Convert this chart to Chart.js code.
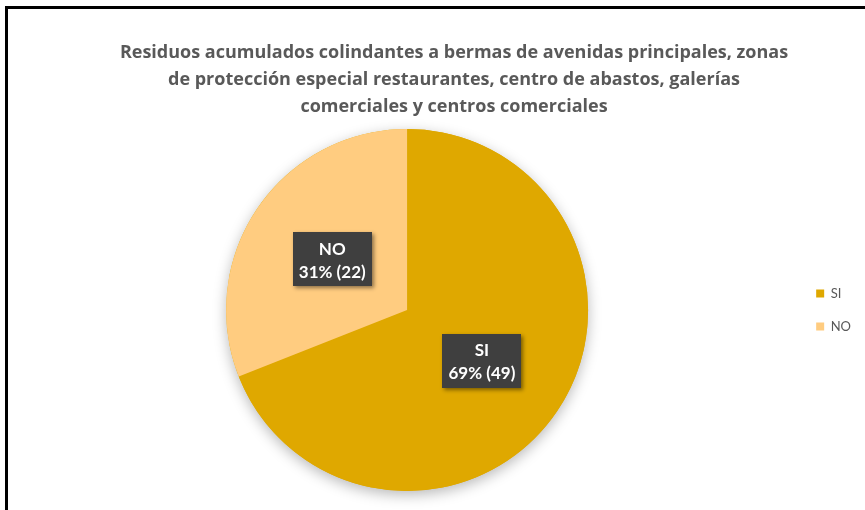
<!DOCTYPE html>
<html>
<head>
<meta charset="utf-8">
<script src="https://cdn.jsdelivr.net/npm/chart.js@4.4.1/dist/chart.umd.min.js"></script>
<style>
  html, body { margin: 0; padding: 0; background: #fff; overflow: hidden; }
  #wrap { position: relative; width: 865px; height: 510px; overflow: hidden; }
  #chart { position: absolute; left: 0; top: 0; }
  #frame {
    position: absolute; left: 5px; top: 6px; width: 900px; height: 600px;
    border: 3px solid #000; box-sizing: border-box; pointer-events: none;
  }
</style>
</head>
<body>
<div id="wrap">
  <canvas id="chart" width="865" height="510" style="width:865px;height:510px"></canvas>
  <div id="frame"></div>
</div>
<script>
const categorias = ['SI', 'NO'];
const cantidades = [49, 22];
const colores = ['#DFA800', '#FFCC80'];
const titulo = [
  'Residuos acumulados colindantes a bermas de avenidas principales, zonas',
  'de protección especial restaurantes, centro de abastos, galerías',
  'comerciales y centros comerciales'
];

const FUENTE = 'Lato, "Open Sans", sans-serif';

// título en tres líneas, centrado sobre el bloque completo (gráfico + leyenda)
const tituloPlugin = {
  id: 'tituloPlugin',
  afterDraw(chart) {
    const ctx = chart.ctx;
    ctx.save();
    ctx.font = 'bold 18px "Open Sans", sans-serif';
    ctx.fillStyle = '#595959';
    ctx.textAlign = 'center';
    ctx.textBaseline = 'middle';
    titulo.forEach((linea, i) => ctx.fillText(linea, 454, 53 + i * 27));
    ctx.restore();
  }
};

// sombra suave bajo el círculo completo
const sombraPie = {
  id: 'sombraPie',
  beforeDatasetsDraw(chart) {
    const arc = chart.getDatasetMeta(0).data[0];
    if (!arc) return;
    const ctx = chart.ctx;
    ctx.save();
    ctx.shadowColor = 'rgba(0,0,0,0.28)';
    ctx.shadowBlur = 14;
    ctx.shadowOffsetX = 0;
    ctx.shadowOffsetY = 4;
    ctx.fillStyle = colores[0];
    ctx.beginPath();
    ctx.arc(arc.x, arc.y, arc.outerRadius, 0, Math.PI * 2);
    ctx.fill();
    ctx.restore();
  }
};

// etiquetas oscuras con categoría, porcentaje y cantidad
const etiquetas = {
  id: 'etiquetas',
  afterDatasetsDraw(chart) {
    const ctx = chart.ctx;
    const total = cantidades.reduce((a, b) => a + b, 0);
    chart.getDatasetMeta(0).data.forEach((arc, i) => {
      const medio = (arc.startAngle + arc.endAngle) / 2;
      const r = arc.outerRadius * 0.5;
      const x = arc.x + Math.cos(medio) * r;
      const y = arc.y + Math.sin(medio) * r;
      const pct = Math.round(cantidades[i] / total * 100);
      const lineas = [categorias[i], pct + '% (' + cantidades[i] + ')'];

      ctx.save();
      ctx.font = 'bold 17px ' + FUENTE;
      const w = Math.max(...lineas.map(t => ctx.measureText(t).width)) + 12;
      const h = 54;
      ctx.shadowColor = 'rgba(0,0,0,0.45)';
      ctx.shadowBlur = 4;
      ctx.shadowOffsetX = 2;
      ctx.shadowOffsetY = 2;
      ctx.fillStyle = '#3f3f3f';
      ctx.fillRect(Math.round(x - w / 2), Math.round(y - h / 2), Math.round(w), h);
      ctx.restore();

      ctx.save();
      ctx.font = 'bold 17px ' + FUENTE;
      ctx.fillStyle = '#ffffff';
      ctx.textAlign = 'center';
      ctx.textBaseline = 'middle';
      ctx.fillText(lineas[0], x, y - 10);
      ctx.fillText(lineas[1], x, y + 13);
      ctx.restore();
    });
  }
};

new Chart(document.getElementById('chart'), {
  type: 'pie',
  data: {
    labels: categorias,
    datasets: [{
      data: cantidades,
      backgroundColor: colores,
      borderWidth: 0
    }]
  },
  options: {
    responsive: false,
    animation: false,
    layout: { padding: { left: 18, right: 4, top: 129, bottom: 19 } },
    plugins: {
      title: { display: false },
      legend: {
        position: 'right',
        fullSize: false,
        labels: {
          boxWidth: 8,
          boxHeight: 8,
          padding: 20,
          color: '#595959',
          font: { family: FUENTE, size: 13 }
        }
      },
      tooltip: { enabled: false }
    }
  },
  plugins: [sombraPie, etiquetas, tituloPlugin]
});
</script>
</body>
</html>
